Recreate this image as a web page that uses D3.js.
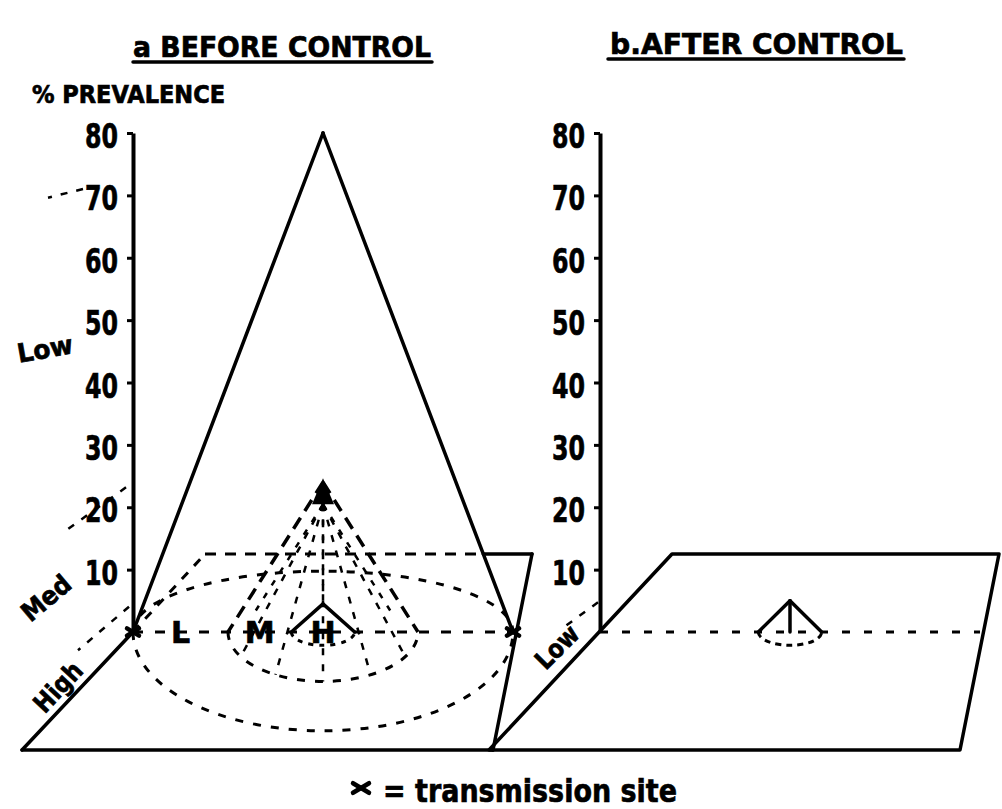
<!DOCTYPE html>
<html><head><meta charset="utf-8">
<script src="https://cdn.jsdelivr.net/npm/d3@7"></script>
<style>body{margin:0;background:#fff}svg{display:block}</style>
</head><body>
<svg id="chart" width="1002" height="809"></svg>
<script>
// ---------------- data ----------------
const panelTitles = ["a BEFORE CONTROL", "b.AFTER CONTROL"];
const yTicks = [10, 20, 30, 40, 50, 60, 70, 80];
const zoneLetters = ["L", "M", "H"];
const beforePrevalence = [80, 24, 4.5];   // apex prevalence (%) of each cone, before control
const beforeRadius = [6, 3, 1];           // relative radius of each zone around the site
const afterPrevalence = [5];              // apex prevalence (%) after control
const afterRadius = [1];
const beforeGuideLevels = [73, 24, 4.6];  // prevalence where depth guides leave the axis
const afterGuideLevels = [5];
const beforeDepthLabels = ["Low", "Med", "High"];
const afterDepthLabels = ["Low"];
const legendText = "= transmission site";
const yAxisTitle = "% PREVALENCE";

// ---------------- layout ----------------
const FONT = "'DejaVu Sans', 'Liberation Sans', Arial, sans-serif";
const svg = d3.select("#chart");
const y = d3.scaleLinear().domain([0, 80]).range([632, 133]);
const r = d3.scaleLinear().domain([0, 6]).range([0, 190]);
const originX = d3.scaleOrdinal().domain(panelTitles).range([133, 600]);
const baseY = y(0);
const L = {
  floor: {frontY: 750, backY: 554, frontL: -111, frontR: 360, backL: 72, backR: 399},
  lowerRatio: 0.52, upperRatio: 0.32, smallRatio: 0.42,
  titles: [{x: 133, y: 57, w: 298, ul: 62, ul0: 133, ul1: 432},
           {x: 610, y: 54, w: 293, ul: 59, ul0: 608, ul1: 904}],
  beforeGuides: [{s: -50, dx: -85, dy: 21}, {s: -7, dx: -71, dy: 51}, {s: -4, dx: -55, dy: 47}],
  afterGuides: [{s: -2, dx: -37, dy: 27}],
  beforeDepth: [{x: 45, y: 349, a: -10, w: 56}, {x: 46, y: 598, a: -40, w: 56}, {x: 58, y: 687, a: -47, w: 58}],
  afterDepth: [{x: 557, y: 647, a: -45, w: 50}]
};

function seg(g, p1, p2, w, dash) {
  const l = g.append("line")
    .attr("x1", p1[0]).attr("y1", p1[1]).attr("x2", p2[0]).attr("y2", p2[1])
    .attr("stroke", "#000").attr("stroke-width", w).attr("stroke-linecap", "round");
  if (dash) l.attr("stroke-dasharray", dash).attr("stroke-linecap", "butt");
  return l;
}
function halfEllipse(cx, cy, rx, ry, lower) {
  return `M${cx - rx},${cy} A${rx},${ry} 0 0 ${lower ? 0 : 1} ${cx + rx},${cy}`;
}
function pathEl(g, d, w, dash) {
  const p = g.append("path").attr("d", d).attr("fill", "none")
    .attr("stroke", "#000").attr("stroke-width", w);
  if (dash) p.attr("stroke-dasharray", dash);
  return p;
}
function xMark(g, cx, cy, s) {
  seg(g, [cx - s, cy - s * 0.6], [cx + s, cy + s * 0.6], 4.5);
  seg(g, [cx - s, cy + s * 0.6], [cx + s, cy - s * 0.6], 4.5);
}
function label(g, txt, x, yy, size, opts = {}) {
  const t = g.append("text").attr("x", x).attr("y", yy).text(txt)
    .attr("font-family", FONT).attr("font-weight", "bold").attr("font-size", size)
    .attr("fill", "#000").attr("stroke", "#000").attr("stroke-width", 0.7)
    .attr("text-anchor", opts.anchor || "start");
  if (opts.w) t.attr("textLength", opts.w).attr("lengthAdjust", "spacingAndGlyphs");
  if (opts.rot !== undefined) t.attr("transform", `rotate(${opts.rot},${x},${yy})`);
  return t;
}

function floorPts(ox) {
  const f = L.floor;
  return {fl: [ox + f.frontL, f.frontY], fr: [ox + f.frontR, f.frontY],
          bl: [ox + f.backL, f.backY], br: [ox + f.backR, f.backY]};
}

function drawAxis(g, ox) {
  const ax = g.append("g").attr("transform", `translate(${ox},0)`)
    .call(d3.axisLeft(y).tickValues(yTicks).tickSize(6).tickSizeOuter(0).tickPadding(9));
  ax.select(".domain").attr("stroke-width", 4);
  ax.selectAll(".tick line").attr("stroke-width", 3);
  ax.attr("font-family", FONT).attr("font-size", 33).attr("font-weight", "bold");
  ax.selectAll(".tick text").attr("dy", "0.44em").attr("fill", "#000")
    .attr("stroke", "#000").attr("stroke-width", 0.7)
    .attr("textLength", 33).attr("lengthAdjust", "spacingAndGlyphs");
}

function drawGuides(g, ox, levels, geo, labels, lgeo) {
  levels.forEach((lv, i) => {
    const G = geo[i];
    seg(g, [ox + G.s, y(lv) + G.dy * G.s / G.dx], [ox + G.dx, y(lv) + G.dy], 2.5, "7,9");
  });
  labels.forEach((t, i) => {
    const D = lgeo[i];
    label(g, t, D.x, D.y, 26, {anchor: "middle", rot: D.a, w: D.w}).attr("dy", "0.35em");
  });
}

// ---------------- titles ----------------
panelTitles.forEach((t, i) => {
  const T = L.titles[i];
  label(svg, t, T.x, T.y, 29, {w: T.w});
  seg(svg, [T.ul0, T.ul], [T.ul1, T.ul], 3.5);
});
label(svg, yAxisTitle, 32, 103, 24, {w: 193});

// ---------------- panel a: before control ----------------
const gA = svg.append("g");
const oA = originX(panelTitles[0]);
const cA = oA + r(d3.max(beforeRadius));
const rOut = r(beforeRadius[0]);
{
  const F = floorPts(oA);
  const apex0 = [cA, y(beforePrevalence[0])];
  const rightV = [cA + rOut, baseY];
  const t = (F.br[1] - apex0[1]) / (rightV[1] - apex0[1]);
  const ix = apex0[0] + t * (rightV[0] - apex0[0]);
  seg(gA, F.fl, F.fr, 3.5);
  seg(gA, F.fr, F.br, 3.5);
  seg(gA, [ix, F.br[1]], F.br, 3.5);
  seg(gA, F.bl, [ix, F.bl[1]], 3, "11,9");
  seg(gA, F.fl, [oA, baseY], 3.5);
  seg(gA, [oA, baseY], F.bl, 3, "9,9");

  seg(gA, [oA, baseY], rightV, 3, "10,12");

  beforeRadius.forEach((rr, i) => {
    const rx = r(rr);
    const lowRatio = i === 2 ? L.smallRatio : L.lowerRatio;
    pathEl(gA, halfEllipse(cA, baseY, rx, rx * lowRatio, true), 3, i === 2 ? "5,6" : "8,10");
    if (i === 0) pathEl(gA, halfEllipse(cA, baseY, rx, rx * L.upperRatio, false), 3, "8,10");
  });

  beforePrevalence.forEach((p, i) => {
    const rx = r(beforeRadius[i]);
    const ap = [cA, y(p)];
    if (i === 1) {
      seg(gA, ap, [cA - rx, baseY], 3.5, "13,8");
      seg(gA, ap, [cA + rx, baseY], 3.5, "13,8");
      d3.range(30, 180, 30).forEach(a => {
        const th = a * Math.PI / 180;
        seg(gA, [ap[0], ap[1] + 22], [cA + rx * Math.cos(th), baseY + rx * L.lowerRatio * Math.sin(th)], 2.5, "7,9");
      });
      d3.range(45, 180, 45).forEach(a => {
        const th = a * Math.PI / 180;
        seg(gA, [ap[0], ap[1] + 22], [cA + rx * Math.cos(th), baseY - rx * L.upperRatio * Math.sin(th)], 2.5, "6,9");
      });
      gA.append("path")
        .attr("d", `M${ap[0]},${ap[1] - 4} L${ap[0] - 11},${ap[1] + 22} L${ap[0] + 11},${ap[1] + 22} Z`)
        .attr("fill", "#000");
    } else {
      seg(gA, ap, [cA - rx, baseY], 3.5);
      seg(gA, ap, [cA + rx, baseY], 3.5);
    }
  });

  zoneLetters.forEach((z, i) => {
    const d = i < beforeRadius.length - 1 ? (beforeRadius[i] + beforeRadius[i + 1]) / 2 : 0;
    label(gA, z, cA - r(d), baseY, 30, {anchor: "middle"}).attr("dy", "0.38em");
  });

  xMark(gA, oA, baseY, 6);
  xMark(gA, rightV[0], baseY, 6);

  drawGuides(gA, oA, beforeGuideLevels, L.beforeGuides, beforeDepthLabels, L.beforeDepth);
  drawAxis(gA, oA);
}

// ---------------- panel b: after control ----------------
const gB = svg.append("g");
const oB = originX(panelTitles[1]);
const cB = oB + r(d3.max(beforeRadius));
{
  const F = floorPts(oB);
  gB.append("path")
    .attr("d", `M${F.fl} L${F.fr} L${F.br} L${F.bl} Z`)
    .attr("fill", "none").attr("stroke", "#000").attr("stroke-width", 3.5).attr("stroke-linejoin", "round");
  seg(gB, [oB, baseY], [cB + r(6), baseY], 3, "8,14");
  afterPrevalence.forEach((p, i) => {
    const rx = r(afterRadius[i]);
    const ap = [cB, y(p)];
    pathEl(gB, halfEllipse(cB, baseY, rx, rx * L.smallRatio, true), 3, "6,5");
    seg(gB, [cB - rx, baseY], ap, 3.5);
    seg(gB, ap, [cB + rx, baseY], 3.5);
    seg(gB, ap, [cB, baseY], 3.5);
  });
  drawGuides(gB, oB, afterGuideLevels, L.afterGuides, afterDepthLabels, L.afterDepth);
  drawAxis(gB, oB);
}

// ---------------- legend ----------------
xMark(svg, 361, 788, 8);
label(svg, legendText, 383, 802, 32, {w: 294});
</script>
</body></html>
